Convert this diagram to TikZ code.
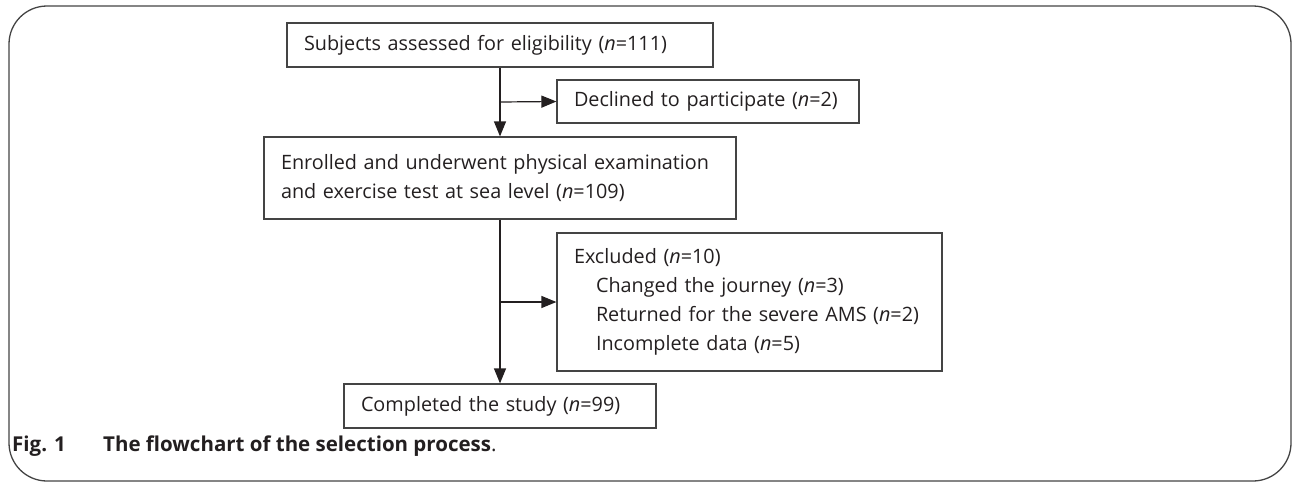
\documentclass[tikz,border=0pt]{standalone}
\usepackage{fontspec}
\setmainfont{Open Sans}
\usetikzlibrary{arrows.meta}
\definecolor{linecol}{HTML}{444444}
\definecolor{txtcol}{HTML}{231F20}
\begin{document}
\begin{tikzpicture}[x=1pt,y=-1pt,
  box/.style={draw=linecol, line width=1.2pt, rectangle, inner xsep=17pt, inner ysep=0pt,
    align=left, text=txtcol, font=\fontsize{19.8}{29}\selectfont},
  conn/.style={draw=txtcol, line width=1.2pt, -{Triangle[length=15pt,width=12pt]}},
  caption/.style={anchor=base west, inner sep=0pt, text=txtcol, font=\fontsize{20.5}{25}\selectfont\bfseries}
]
\useasboundingbox (0,0) rectangle (1292,482);
\draw[linecol, line width=1.3pt, rounded corners=38pt] (9,6) rectangle (1291,481);

\node[box, text width=392pt, minimum height=44pt] (b1) at (500,45)
  {Subjects assessed for eligibility (\textit{n}=111)};
\node[box, text width=268pt, minimum height=43pt] (b2) at (708,101.5)
  {Declined to participate (\textit{n}=2)};
\node[box, text width=438pt, minimum height=82pt] (b3) at (500,178)
  {Enrolled and underwent physical examination\\and exercise test at sea level (\textit{n}=109)};
\node[box, text width=351pt, minimum height=138pt] (b4) at (749.5,302)
  {Excluded (\textit{n}=10)\\
   \hspace*{22pt}Changed the journey (\textit{n}=3)\\
   \hspace*{22pt}Returned for the severe AMS (\textit{n}=2)\\
   \hspace*{22pt}Incomplete data (\textit{n}=5)};
\node[box, text width=278pt, minimum height=44pt] (b5) at (500,406)
  {Completed the study (\textit{n}=99)};

\coordinate (j1) at (500,102);
\coordinate (j2) at (500,302);
\draw[conn] (b1.south) -- (b3.north);
\draw[conn] (j1) -- (b2.west);
\draw[conn] (b3.south) -- (b5.north);
\draw[conn] (j2) -- (b4.west);

\node[caption] (figlab) at (12,451) {Fig. 1};
\node[caption] (captxt) at (103,451) {The flowchart of the selection process\textmd{.}};
\end{tikzpicture}
\end{document}
